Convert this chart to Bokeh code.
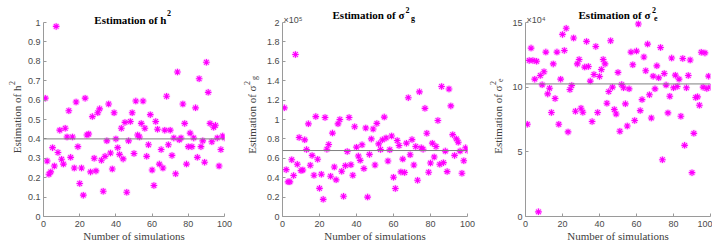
import math
from bokeh.plotting import figure
from bokeh.layouts import row
from bokeh.models import Range1d, FixedTicker, CustomJSTickFormatter, Label, Span
from bokeh.embed import file_html
from bokeh.resources import INLINE

# ---------------- data ----------------
sims = list(range(1, 101))

h2 = [0.61, 0.286, 0.218, 0.23, 0.355, 0.26, 0.98, 0.33, 0.445, 0.295,
      0.27, 0.455, 0.41, 0.545, 0.305, 0.41, 0.25, 0.59, 0.36, 0.17,
      0.25, 0.11, 0.61, 0.42, 0.425, 0.23, 0.515, 0.30, 0.235, 0.535,
      0.555, 0.29, 0.13, 0.31, 0.39, 0.58, 0.327, 0.245, 0.535, 0.40,
      0.355, 0.32, 0.455, 0.297, 0.485, 0.125, 0.39, 0.49, 0.535, 0.325,
      0.595, 0.42, 0.41, 0.48, 0.595, 0.455, 0.31, 0.37, 0.525, 0.24,
      0.16, 0.49, 0.45, 0.27, 0.345, 0.25, 0.445, 0.62, 0.37, 0.445,
      0.315, 0.405, 0.22, 0.745, 0.395, 0.405, 0.58, 0.48, 0.27, 0.36,
      0.43, 0.36, 0.405, 0.56, 0.305, 0.71, 0.36, 0.39, 0.28, 0.795,
      0.64, 0.48, 0.385, 0.46, 0.47, 0.405, 0.26, 0.345, 0.415, 0.405]

sigma_g_x1e5 = [1.12, 0.483, 0.357, 0.357, 0.585, 0.422, 1.67, 0.538, 0.814, 0.473,
                0.48, 0.79, 0.69, 0.955, 0.528, 0.63, 0.425, 1.03, 0.59, 0.29,
                0.436, 0.177, 1.02, 0.694, 0.742, 0.415, 0.86, 0.51, 0.378, 0.955,
                1.0, 0.466, 0.208, 0.524, 0.67, 1.02, 0.534, 0.425, 0.926, 0.715,
                0.623, 0.579, 0.739, 0.494, 0.912, 0.20, 0.64, 0.80, 0.902, 0.531,
                0.96, 0.749, 0.691, 0.79, 1.025, 0.81, 0.572, 0.688, 0.83, 0.405,
                0.289, 0.783, 0.732, 0.46, 0.592, 0.453, 0.756, 1.225, 0.637, 0.793,
                0.531, 0.722, 0.374, 1.285, 0.708, 0.694, 1.115, 0.858, 0.456, 0.551,
                0.756, 0.613, 0.722, 0.99, 0.538, 1.34, 0.555, 0.674, 0.463, 1.315,
                1.14, 0.844, 0.63, 0.80, 0.766, 0.674, 0.446, 0.575, 0.708, 0.681]

sigma_e_x1e4 = [7.13, 12.07, 13.02, 12.07, 10.62, 12.0, 0.36, 10.9, 10.18, 11.19,
                12.71, 9.48, 9.92, 8.04, 11.8, 9.12, 12.71, 7.13, 10.62, 14.08,
                12.84, 14.55, 6.54, 9.82, 10.13, 13.8, 8.14, 11.8, 12.14, 8.37,
                8.06, 11.55, 13.54, 11.6, 10.47, 7.34, 10.98, 13.15, 8.04, 10.83,
                11.37, 12.14, 11.8, 8.76, 9.66, 13.59, 10.0, 8.27, 7.93, 11.14,
                6.59, 10.2, 9.95, 8.71, 7.0, 9.87, 12.71, 11.73, 7.42, 12.79,
                14.88, 8.19, 9.04, 12.33, 11.27, 13.33, 9.41, 7.62, 10.85, 9.87,
                11.65, 10.72, 13.07, 4.39, 11.06, 10.16, 8.01, 9.3, 12.25, 9.95,
                10.93, 10.05, 10.62, 7.75, 12.22, 5.5, 9.95, 10.9, 12.1, 3.39,
                6.43, 9.2, 9.25, 8.6, 12.7, 10.0, 12.65, 9.9, 10.85, 10.0]

true_h2 = 0.40
true_sigma_g_x1e5 = 0.68
true_sigma_e_x1e4 = 10.25

x_ticks = [0, 20, 40, 60, 80, 100]
h2_ticks = [0, 0.1, 0.2, 0.3, 0.4, 0.5, 0.6, 0.7, 0.8, 0.9, 1]
g_ticks = [0, 0.2, 0.4, 0.6, 0.8, 1, 1.2, 1.4, 1.6, 1.8, 2]
e_ticks = [0, 5, 10, 15]

x_label = "Number of simulations"

SERIF = "Liberation Serif"
SANS = "Liberation Sans"
AXIS_COL = "#9a9a9a"
TICK_COL = "#4a4a4a"
LAB_COL = "#404040"

H = 246          # figure height
B_BOT = 30       # bottom border (ticks + x label)
TOP_PAD = 22     # title strip inside the frame, above the data area
FRAME_H = H - B_BOT
DATA_H = FRAME_H - TOP_PAD


def main_panel(values, ymax, yticks, true_val, title_parts, exponent, width, frame_w, b_left,
               title_base, sup_up, sup_x, sub_x, end_x):
    px_y = DATA_H / ymax
    px_x = frame_w / 100.0
    y_top = ymax * FRAME_H / DATA_H
    p = figure(width=width, height=H, x_range=Range1d(0, 100), y_range=Range1d(0, y_top),
               output_backend="svg", toolbar_location=None, title=None,
               min_border_left=b_left, min_border_right=width - b_left - frame_w,
               min_border_top=0, min_border_bottom=B_BOT)
    p.outline_line_color = None
    p.xgrid.visible = False
    p.ygrid.visible = False
    p.yaxis.bounds = (0, ymax)
    fmt = CustomJSTickFormatter(code="return String(tick);")
    for ax, ticks in ((p.xaxis[0], x_ticks), (p.yaxis[0], yticks)):
        ax.ticker = FixedTicker(ticks=ticks)
        ax.formatter = fmt
        ax.axis_line_color = AXIS_COL
        ax.major_tick_line_color = AXIS_COL
        ax.major_tick_in = 3
        ax.major_tick_out = 0
        ax.minor_tick_line_color = None
        ax.major_label_text_font = SANS
        ax.major_label_text_font_size = "9px"
        ax.major_label_text_color = TICK_COL
        ax.major_label_standoff = 4
    p.yaxis.major_label_standoff = 3
    p.xaxis.axis_label = x_label
    p.xaxis.axis_label_text_font = SERIF
    p.xaxis.axis_label_text_font_style = "normal"
    p.xaxis.axis_label_text_font_size = "11px"
    p.xaxis.axis_label_text_color = LAB_COL
    p.xaxis.axis_label_standoff = 0

    p.add_layout(Span(location=true_val, dimension="width", line_color="#7f7f7f", line_width=1))
    p.scatter(sims, values, marker="circle", size=7.5, fill_color="#ff70ff", fill_alpha=0.28,
              line_color=None)
    p.scatter(sims, values, marker="asterisk", size=6.5, line_color="#ff00ff", line_width=1.1)

    # title, drawn in the strip of the frame above the data area
    main, sup, sub = title_parts
    xe = 50 + end_x / px_x
    yb = ymax + title_base / px_y
    p.add_layout(Label(x=xe, y=yb, text=main, text_align="right", text_baseline="alphabetic",
                       text_font=SERIF, text_font_style="bold", text_font_size="11px",
                       text_color="black"))
    p.add_layout(Label(x=xe + sup_x / px_x, y=yb + sup_up / px_y, text=sup, text_align="left",
                       text_baseline="alphabetic", text_font=SERIF, text_font_style="bold",
                       text_font_size="8px", text_color="black"))
    if sub:
        p.add_layout(Label(x=xe + sub_x / px_x, y=yb - 3 / px_y, text=sub, text_align="left",
                           text_baseline="alphabetic", text_font=SERIF, text_font_style="bold",
                           text_font_size="8px", text_color="black"))
    if exponent:
        p.add_layout(Label(x=1 / px_x, y=ymax + 3 / px_y, text=exponent, text_align="left",
                           text_baseline="alphabetic", text_font=SANS, text_font_size="9px",
                           text_color=TICK_COL))
    return p


def ylabel_fig(width, parts, anchor_x, sub_dy):
    q = figure(width=width, height=H, x_range=Range1d(0, width), y_range=Range1d(0, FRAME_H),
               output_backend="svg", toolbar_location=None, title=None,
               x_axis_type=None, y_axis_type=None, min_border_left=0, min_border_right=0,
               min_border_top=0, min_border_bottom=B_BOT)
    q.outline_line_color = None
    q.xgrid.visible = False
    q.ygrid.visible = False
    main, sup, sub = parts
    yc = DATA_H / 2
    ye = yc + 34
    q.add_layout(Label(x=anchor_x, y=ye, text=main, angle=math.pi / 2, text_align="right",
                       text_baseline="alphabetic", text_font=SERIF, text_font_size="11px",
                       text_color=LAB_COL))
    q.add_layout(Label(x=anchor_x - 5, y=ye + 0.5, text=sup, angle=math.pi / 2,
                       text_align="left", text_baseline="alphabetic", text_font=SERIF,
                       text_font_size="8px", text_color=LAB_COL))
    if sub:
        q.add_layout(Label(x=anchor_x + 2.5, y=ye + sub_dy, text=sub, angle=math.pi / 2,
                           text_align="left", text_baseline="alphabetic", text_font=SERIF,
                           text_font_size="8px", text_color=LAB_COL))
    return q


# panel 1: page x 0..240, frame 40..224
yl1 = ylabel_fig(24, ("Estimation of h", "2", None), 16, 0)
m1 = main_panel(h2, 1, h2_ticks, true_h2, ("Estimation of h", "2", None), None,
                216, 184, 16, 3, 6.5, 0.5, 0, 33)

# panel 2: page x 240..482, frame 282..467
yl2 = ylabel_fig(22, ("Estimation of \u03c3", "2", "g"), 11, 5.5)
m2 = main_panel(sigma_g_x1e5, 2, g_ticks, true_sigma_g_x1e5,
                ("Estimation of \u03c3", "2", "g"), "\u00d710\u2075",
                220, 185, 20, 7.5, 5, 1, 6.5, 29.5)

# panel 3: page x 482..712, frame 525..710
yl3 = ylabel_fig(23, ("Estimation of \u03c3", "2", "e"), 15, 3.5)
m3 = main_panel(sigma_e_x1e4, 15, e_ticks, true_sigma_e_x1e4,
                ("Estimation of \u03c3", "2", "e"), "\u00d710\u2074",
                207, 185, 20, 7.5, 5.5, 1.5, 3.5, 32.5)

layout = row(yl1, m1, yl2, m2, yl3, m3)
open("out.html", "w").write(file_html(layout, INLINE))
